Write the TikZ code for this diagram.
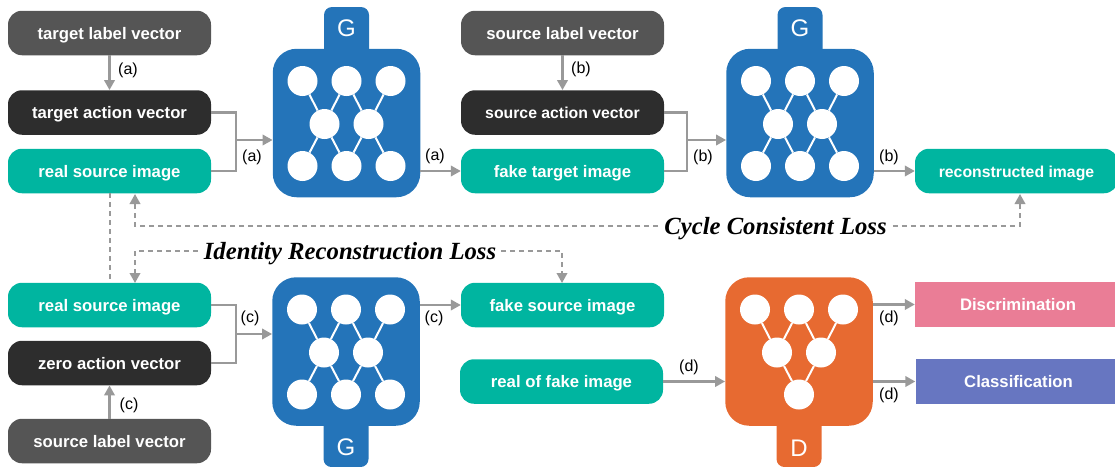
\documentclass[tikz,border=0pt]{standalone}
\usepackage{fontspec}
\setmainfont{Liberation Sans}
\newfontfamily\lossfont{Liberation Serif}
\usetikzlibrary{arrows.meta,positioning}
\definecolor{labelgray}{HTML}{555555}
\definecolor{actionblack}{HTML}{2D2D2D}
\definecolor{imageteal}{HTML}{00B5A0}
\definecolor{netblue}{HTML}{2474B9}
\definecolor{netorange}{HTML}{E76A31}
\definecolor{discpink}{HTML}{EA7D96}
\definecolor{classblue}{HTML}{6776C1}
\definecolor{linegray}{HTML}{999999}
\tikzset{
  box/.style = {rounded corners=14pt, minimum width=203pt, minimum height=44.5pt, inner sep=0pt,
    text height=14.5pt, text depth=2.5pt, text=white, font=\fontsize{16.7}{20}\selectfont\bfseries},
  smalltext/.style = {font=\fontsize{15.8}{20}\selectfont\bfseries},
  labelbox/.style = {box, fill=labelgray},
  actionbox/.style = {box, fill=actionblack},
  imagebox/.style = {box, fill=imageteal},
  outbox/.style = {box, rounded corners=0pt, minimum width=200pt},
  nettab/.style = {rounded corners=8pt, minimum width=45pt, minimum height=60pt, inner sep=0pt},
  nettext/.style = {text=white, inner sep=0pt, font=\fontsize{24}{28}\selectfont},
  netbody/.style = {rounded corners=24pt, minimum width=147.5pt, minimum height=148.5pt, inner sep=0pt},
  neuron/.style = {circle, fill=white, minimum size=30pt, inner sep=0pt},
  wire/.style = {white, line width=2pt},
  flow/.style = {linegray, line width=2.2pt},
  arrow/.style = {flow, -{Triangle[length=10pt,width=10.5pt]}},
  lossline/.style = {linegray, line width=2pt, dash pattern=on 5pt off 4pt},
  lossarrow/.style = {lossline, -{Triangle[length=10pt,width=10.5pt]}},
  step label/.style = {inner sep=0pt, font=\fontsize{16}{19}\selectfont},
  loss/.style = {inner sep=0pt, text height=20pt, text depth=4pt, text=black,
    font=\fontsize{24.7}{29}\selectfont\lossfont\bfseries\itshape},
  gennet/.pic = {
    \node[netbody, fill=netblue] (-body) at (0,0) {};
    \node[neuron] (-t1) at (-44,-42) {};
    \node[neuron] (-t2) at (0,-42) {};
    \node[neuron] (-t3) at (44,-42) {};
    \node[neuron] (-m1) at (-22,1) {};
    \node[neuron] (-m2) at (22,1) {};
    \node[neuron] (-b1) at (-44,43) {};
    \node[neuron] (-b2) at (0,43) {};
    \node[neuron] (-b3) at (44,43) {};
    \draw[wire] (-t1) -- (-m1) -- (-t2) -- (-m2) -- (-t3);
    \draw[wire] (-b1) -- (-m1) -- (-b2) -- (-m2) -- (-b3);
  },
  discnet/.pic = {
    \node[netbody, fill=netorange] (-body) at (0,0) {};
    \node[neuron] (-t1) at (-44,-42) {};
    \node[neuron] (-t2) at (0,-42) {};
    \node[neuron] (-t3) at (44,-42) {};
    \node[neuron] (-m1) at (-22,1) {};
    \node[neuron] (-m2) at (22,1) {};
    \node[neuron] (-b) at (0,43) {};
    \draw[wire] (-t1) -- (-m1) -- (-t2) -- (-m2) -- (-t3);
    \draw[wire] (-m1) -- (-b) -- (-m2);
  },
}
\begin{document}
\begin{tikzpicture}[x=1pt, y=-1pt]
  \useasboundingbox (0,0) rectangle (1115,466);
  % first row
  \node[labelbox] (tlabel) at (109.5,33) {target label vector};
  \node[actionbox] (taction) at (109.5,112.5) {target action vector};
  \node[imagebox] (rsource) at (109.5,171) {real source image};
  \node[labelbox] (slabel) at (562.5,33) {source label vector};
  \node[actionbox, smalltext] (saction) at (562.5,112.5) {source action vector};
  \node[imagebox] (ftarget) at (562.5,171) {fake target image};
  \node[imagebox, smalltext] (recon) at (1016.5,171) {reconstructed image};
  % second row
  \node[imagebox] (rsourceb) at (109.5,305) {real source image};
  \node[actionbox] (zaction) at (109.5,363) {zero action vector};
  \node[labelbox] (slabelb) at (109.5,441) {source label vector};
  \node[imagebox] (fsource) at (562.5,305) {fake source image};
  \node[imagebox] (rfake) at (561.5,381.5) {real of fake image};
  \node[outbox, fill=discpink] (disc) at (1015,304.5) {\hspace*{6pt}Discrimination};
  \node[outbox, fill=classblue] (class) at (1015.5,381.5) {\hspace*{6pt}Classification};
  % networks
  \node[nettab, fill=netblue] (gatab) at (346.5,37) {};
  \node[nettext, below=13pt of gatab.north] (galetter) {G};
  \pic (ga) at (346.5,123) {gennet};
  \node[nettab, fill=netblue] (gbtab) at (800,37) {};
  \node[nettext, below=13pt of gbtab.north] (gbletter) {G};
  \pic (gb) at (800,123) {gennet};
  \node[nettab, fill=netblue] (gctab) at (346,437) {};
  \node[nettext, above=11pt of gctab.south] (gcletter) {G};
  \pic (gc) at (346,351.5) {gennet};
  \node[nettab, fill=netorange] (dtab) at (799,437) {};
  \node[nettext, above=11pt of dtab.south] (dletter) {D};
  \pic (da) at (799,351.5) {discnet};
  % joints
  \coordinate (ja) at (236,140);
  \coordinate (jb) at (687,140);
  \coordinate (jc) at (236,334);
  \coordinate (cyclea) at (135,194);
  \coordinate (cycleb) at (1020,194);
  \coordinate (ida) at (135,283);
  \coordinate (idb) at (562,283);
  % connectors
  \draw[arrow] (tlabel) -- (taction);
  \draw[flow] (taction.east) -| (ja);
  \draw[flow] (rsource.east) -| (ja);
  \draw[arrow] (ja) -- (ja -| ga-body.west);
  \draw[arrow] (ftarget.west -| ga-body.east) -- (ftarget.west);
  \draw[arrow] (slabel) -- (saction);
  \draw[flow] (saction.east) -| (jb);
  \draw[flow] (ftarget.east) -| (jb);
  \draw[arrow] (jb) -- (jb -| gb-body.west);
  \draw[arrow] (recon.west -| gb-body.east) -- (recon.west);
  \draw[arrow] (slabelb) -- (zaction);
  \draw[flow] (rsourceb.east) -| (jc);
  \draw[flow] (zaction.east) -| (jc);
  \draw[arrow] (jc) -- (jc -| gc-body.west);
  \draw[arrow] (fsource.west -| gc-body.east) -- (fsource.west);
  \draw[arrow] (rfake.east) -- (rfake.east -| da-body.west);
  \draw[arrow] (disc.west -| da-body.east) -- (disc.west);
  \draw[arrow] (class.west -| da-body.east) -- (class.west);
  % losses
  \node[loss] (cycle) at (775.5,226) {Cycle Consistent Loss};
  \node[loss] (identity) at (350,251) {Identity Reconstruction Loss};
  \draw[lossline] (rsource) -- (rsourceb);
  \draw[lossarrow] ([xshift=-6pt]cycle.west) -| (cyclea);
  \draw[lossarrow] ([xshift=6pt]cycle.east) -| (cycleb);
  \draw[lossarrow] ([xshift=-6pt]identity.west) -| (ida);
  \draw[lossarrow] ([xshift=5pt]identity.east) -| (idb);
  % step labels
  \node[step label] (sa) at (128,70) {(a)};
  \node[step label] (sb) at (252,157) {(a)};
  \node[step label] (sc) at (435,156) {(a)};
  \node[step label] (sd) at (581,69) {(b)};
  \node[step label] (se) at (703,157) {(b)};
  \node[step label] (sf) at (889,157) {(b)};
  \node[step label] (sg) at (129,405) {(c)};
  \node[step label] (sh) at (250,318) {(c)};
  \node[step label] (si) at (434,318) {(c)};
  \node[step label] (sj) at (689,367) {(d)};
  \node[step label] (sk) at (889,318) {(d)};
  \node[step label] (sl) at (889,395) {(d)};
\end{tikzpicture}
\end{document}
